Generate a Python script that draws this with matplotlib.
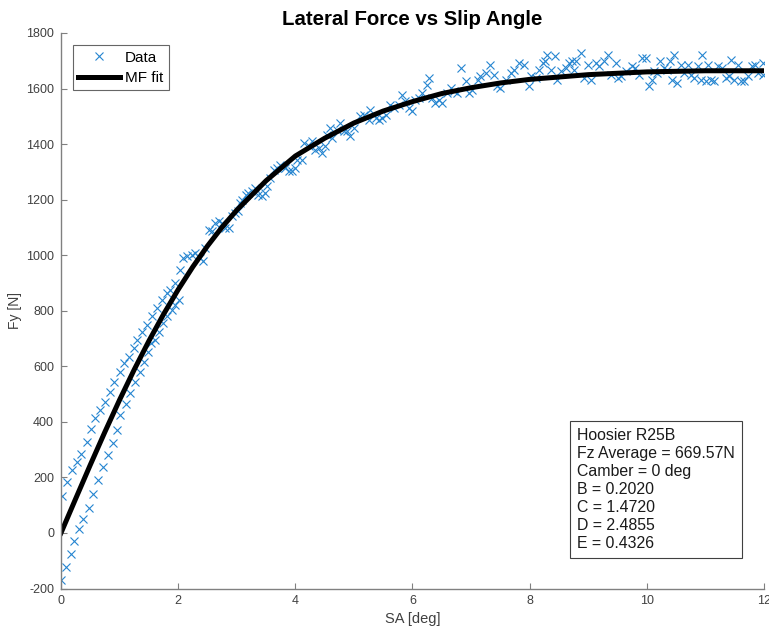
import matplotlib
matplotlib.use("Agg")
import matplotlib.pyplot as plt

sa_upper_low = [0.02, 0.11, 0.19, 0.28, 0.35, 0.44, 0.51, 0.58, 0.67, 0.75,
                0.84, 0.91, 1.00, 1.07, 1.16, 1.24, 1.30, 1.39, 1.46, 1.55,
                1.64, 1.72, 1.81, 1.86, 1.95, 2.03]
fy_upper_low = [133, 183, 225, 256, 285, 329, 375, 413, 443, 473,
                509, 545, 581, 611, 635, 665, 695, 725, 750, 780,
                810, 840, 864, 876, 900, 945]

sa_lower_low = [0.00, 0.08, 0.17, 0.22, 0.30, 0.38, 0.47, 0.54, 0.64, 0.71,
                0.80, 0.88, 0.95, 1.01, 1.11, 1.18, 1.26, 1.35, 1.41, 1.48,
                1.53, 1.61, 1.68, 1.74, 1.81, 1.89, 1.95, 2.02]
fy_lower_low = [-169, -124, -77, -30, 13, 49, 91, 139, 191, 237,
                281, 323, 371, 424, 464, 503, 545, 581, 617, 653,
                683, 695, 725, 755, 780, 803, 821, 840]

sa_mid = [2.09, 2.15, 2.23, 2.29, 2.38, 2.43, 2.46, 2.52, 2.58, 2.63,
          2.69, 2.75, 2.80, 2.86, 2.92, 2.97, 3.03, 3.06, 3.09, 3.15,
          3.20, 3.26, 3.32, 3.37, 3.43, 3.49, 3.52, 3.57, 3.63, 3.69,
          3.74, 3.83, 3.89, 3.94, 4.00, 4.03,
          4.11, 4.14, 4.23, 4.28, 4.34, 4.40, 4.46, 4.51, 4.54, 4.60,
          4.63, 4.71, 4.77, 4.83, 4.88, 4.94, 5.00, 5.11, 5.17, 5.25,
          5.28, 5.37, 5.42, 5.48, 5.54, 5.62, 5.68, 5.77, 5.82, 5.88,
          5.94, 5.99, 6.05, 6.11, 6.17, 6.25, 6.28, 6.34, 6.39, 6.45,
          6.51, 6.59, 6.65]
fy_mid = [990, 996, 1002, 1008, 990, 978, 1026, 1092, 1086, 1116,
          1122, 1116, 1098, 1098, 1140, 1152, 1158, 1188, 1200, 1218,
          1224, 1230, 1242, 1218, 1212, 1224, 1248, 1278, 1308, 1314,
          1326, 1314, 1302, 1302, 1314, 1344,
          1344, 1404, 1392, 1410, 1380, 1386, 1368, 1392, 1434, 1458,
          1422, 1452, 1476, 1446, 1446, 1428, 1458, 1500, 1506, 1488,
          1524, 1494, 1488, 1494, 1506, 1542, 1530, 1542, 1578, 1554,
          1530, 1518, 1560, 1566, 1584, 1614, 1638, 1566, 1548, 1560,
          1548, 1584, 1602]

sa_high = [6.71, 6.76, 6.82, 6.91, 6.96, 7.02, 7.11, 7.16, 7.25, 7.33,
           7.39, 7.45, 7.50, 7.59, 7.68, 7.73, 7.82, 7.90, 7.99, 8.02,
           8.10, 8.16, 8.22, 8.27, 8.30, 8.36, 8.44, 8.47, 8.53, 8.62,
           8.67, 8.73, 8.76, 8.79, 8.87, 8.93, 8.99, 9.04, 9.13, 9.19,
           9.27, 9.34,
           9.38, 9.48, 9.50, 9.56, 9.65, 9.74, 9.79, 9.86, 9.91, 9.99,
           10.04, 10.09, 10.12, 10.18, 10.23, 10.29, 10.35, 10.40, 10.43, 10.47,
           10.52, 10.58, 10.64, 10.70, 10.75, 10.81, 10.87, 10.92, 10.95, 11.01,
           11.04, 11.09, 11.15, 11.21, 11.29, 11.35, 11.40, 11.44, 11.49, 11.55,
           11.61, 11.66, 11.72, 11.80, 11.85, 11.90, 11.99, 11.99]
fy_high = [1590, 1584, 1674, 1626, 1584, 1596, 1632, 1644, 1656, 1686,
           1650, 1608, 1602, 1632, 1656, 1668, 1692, 1686, 1608, 1644,
           1638, 1668, 1692, 1698, 1722, 1668, 1716, 1632, 1662, 1674,
           1692, 1698, 1668, 1698, 1728, 1638, 1686, 1632, 1692, 1680,
           1698, 1722,
           1650, 1692, 1638, 1644, 1662, 1680, 1674, 1650, 1710, 1710,
           1608, 1632, 1662, 1656, 1698, 1674, 1668, 1698, 1632, 1722,
           1620, 1686, 1656, 1686, 1650, 1638, 1680, 1632, 1722, 1626,
           1686, 1632, 1626, 1680, 1674, 1638, 1644, 1704, 1632, 1686,
           1626, 1626, 1644, 1680, 1686, 1656, 1692, 1650]

# ---- fitted curve ----
sa_fit = [0, 0.25, 0.5, 0.75, 1.0, 1.25, 1.5, 1.75, 2.0, 2.25, 2.5, 2.75,
          3.0, 3.5, 4.0, 4.5, 5.0, 5.5, 6.0, 6.5, 7.0, 7.5, 8.0, 9.0,
          10.0, 11.0, 12.0]
fy_fit = [0, 123, 245, 364, 479, 588, 691, 787, 876, 958, 1033, 1101,
          1162, 1268, 1357, 1421, 1476, 1519, 1553, 1582, 1603, 1620, 1633, 1650,
          1660, 1664, 1664]

info_lines = ["Hoosier R25B", "Fz Average = 669.57N", "Camber = 0 deg",
              "B = 0.2020", "C = 1.4720", "D = 2.4855", "E = 0.4326"]

sa_data = sa_lower_low + sa_upper_low + sa_mid + sa_high
fy_data = fy_lower_low + fy_upper_low + fy_mid + fy_high

plt.rcParams['font.family'] = ['Liberation Sans', 'DejaVu Sans']
plt.rcParams['axes.unicode_minus'] = False

fig = plt.figure(figsize=(7.69, 6.32), dpi=100)
ax = fig.add_axes([0.0793, 0.0688, 0.9142, 0.879])

axis_col = '#404040'
ax.plot(sa_data, fy_data, linestyle='none', marker='x', color='#2585d0',
        markersize=5.5, markeredgewidth=0.8, label='Data')
ax.plot(sa_fit, fy_fit, color='black', linewidth=3.6, label='MF fit')

ax.set_xlim(0, 12)
ax.set_ylim(-200, 1800)
ax.set_xticks(range(0, 13, 2))
ax.set_yticks(range(-200, 1801, 200))
for s in ['top', 'right']:
    ax.spines[s].set_visible(False)
for s in ['left', 'bottom']:
    ax.spines[s].set_color('#808080')
    ax.spines[s].set_linewidth(1.0)
ax.tick_params(direction='in', length=4, width=0.8, color='#808080',
               labelsize=9, labelcolor=axis_col, pad=5)

ax.set_title('Lateral Force vs Slip Angle', fontsize=14.7, fontweight='bold',
             color='black', pad=6)
ax.set_xlabel('SA [deg]', fontsize=10.5, color=axis_col, labelpad=3)
ax.set_ylabel('Fy [N]', fontsize=10, color=axis_col, labelpad=3)

leg = ax.legend(loc='upper left', bbox_to_anchor=(0.0171, 0.9775), fontsize=11,
                frameon=True, fancybox=False, edgecolor='#404040',
                borderpad=0.35, handlelength=2.75, handletextpad=0.3,
                labelspacing=0.4, borderaxespad=0)
leg.get_frame().set_linewidth(0.8)

ax.text(0.7335, 0.068, "\n".join(info_lines), transform=ax.transAxes,
        fontsize=11.4, color='#1a1a1a', ha='left', va='bottom',
        linespacing=1.25,
        bbox=dict(boxstyle='square,pad=0.45', facecolor='white',
                  edgecolor='#404040', linewidth=0.8))

fig.savefig('out.png', dpi=100)
